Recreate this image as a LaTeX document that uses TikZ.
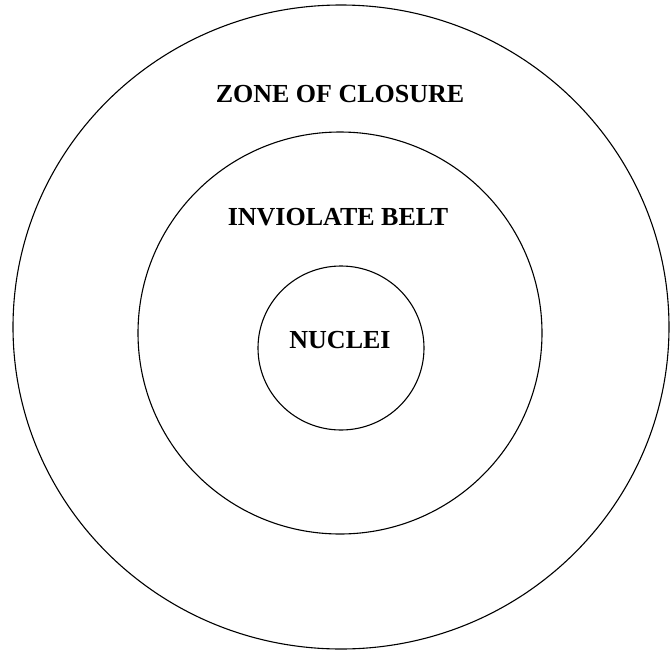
\documentclass[tikz,border=0pt]{standalone}
\usepackage{fontspec}
\setmainfont{Liberation Serif}
\usepackage{tikz}

\begin{document}
\begin{tikzpicture}[x=1pt,y=-1pt]
    \useasboundingbox (0,0) rectangle (670,651);

    % パラメータの定義
    \pgfmathsetmacro{\Ra}{328}
    \pgfmathsetmacro{\Rb}{322}
    \pgfmathsetmacro{\ra}{202}
    \pgfmathsetmacro{\rb}{201}
    \pgfmathsetmacro{\sa}{83}
    \pgfmathsetmacro{\sb}{82}

    % 中心の座標の定義
    \coordinate (O1) at (341,327);
    \coordinate (O2) at (340,333);
    \coordinate (O3) at (341,348);

    % 楕円の描画
    \draw [line width=1.1pt] (O1) ellipse [x radius=\Ra, y radius=\Rb];
    \draw [line width=1.1pt] (O2) ellipse [x radius=\ra, y radius=\rb];
    \draw [line width=1.1pt] (O3) ellipse [x radius=\sa, y radius=\sb];

    % ラベル
    \node (zone) at (340,94) {\fontsize{26}{30}\selectfont\bfseries ZONE OF CLOSURE};
    \node (belt) at (338,217) {\fontsize{26}{30}\selectfont\bfseries INVIOLATE BELT};
    \node (nuclei) at (340,340) {\fontsize{26}{30}\selectfont\bfseries NUCLEI};

\end{tikzpicture}
\end{document}
